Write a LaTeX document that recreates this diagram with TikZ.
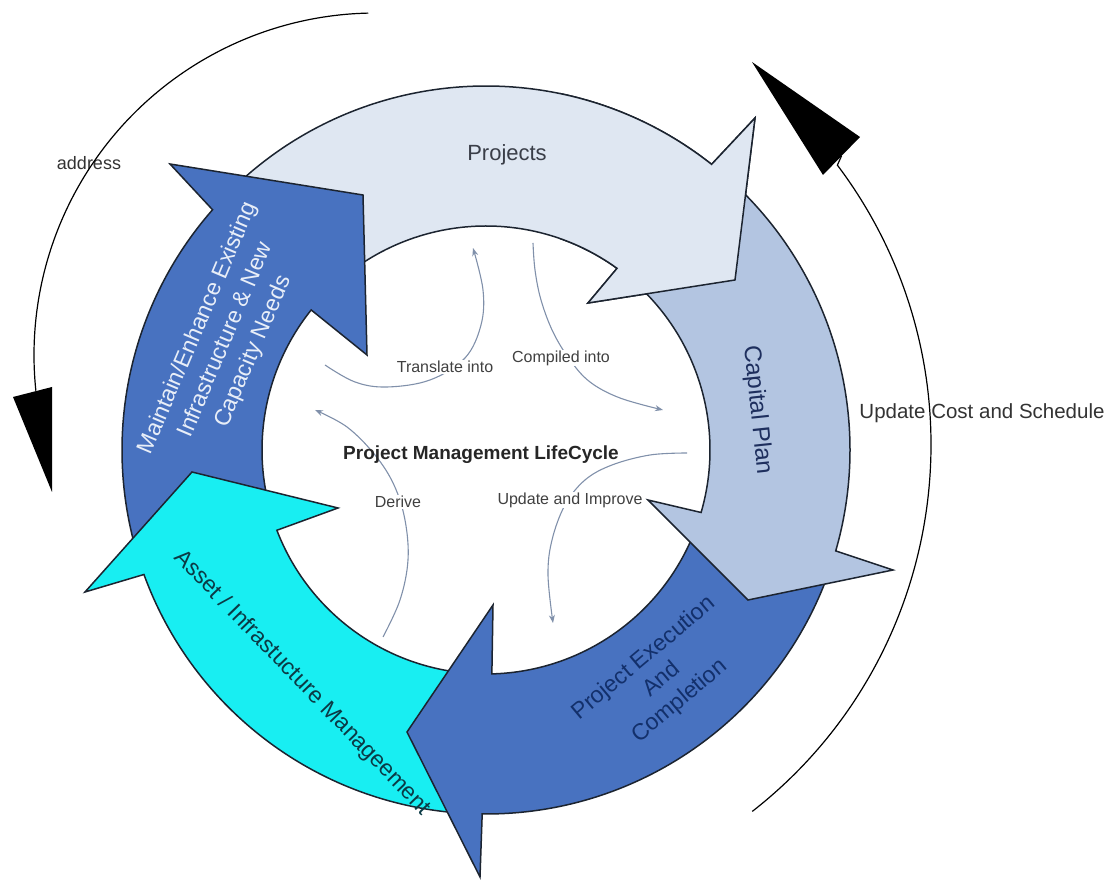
\documentclass[tikz,border=0pt]{standalone}
\usepackage{fontspec}
\setmainfont{Liberation Sans}
\usetikzlibrary{calc,arrows.meta}
\definecolor{projfill}{HTML}{DFE7F2}
\definecolor{capfill}{HTML}{B3C5E1}
\definecolor{darkblue}{HTML}{4872C0}
\definecolor{cyanfill}{HTML}{18EEF2}
\definecolor{ringline}{HTML}{1C2430}
\definecolor{connline}{HTML}{8090AA}
\definecolor{projtext}{HTML}{3A3E48}
\definecolor{captext}{HTML}{1E2F5E}
\definecolor{exectext}{HTML}{13306B}
\definecolor{assettext}{HTML}{0B3A45}
\definecolor{maintext}{HTML}{E8EEF8}
\begin{document}
\begin{tikzpicture}[x=1pt,y=1pt,
  ringarrow/.style={draw=ringline, line width=1.5pt, line join=miter},
  conn/.style={draw=connline, line width=1.1pt, -{Stealth[length=8pt,width=6pt]}},
  lab/.style={font=\fontsize{16}{19}\selectfont, text=black!75, fill=white, inner sep=1pt},
  ringlab/.style={font=\fontsize{23}{28}\selectfont, align=center, inner sep=0pt},
  bigarc/.style={draw=black, line width=1.2pt},
  sidelab/.style={text=black!80, inner sep=0pt}
]
\useasboundingbox (0,0) rectangle (1114,880);
\coordinate (O) at (486,430);

% Projects (light)
\path[ringarrow, fill=projfill] ($(O)+(136:364)$) arc[start angle=136, end angle=51.7, radius=364]
  -- (755,762) -- (735,600) -- (588,577) -- ($(O)+(54.2:224)$)
  arc[start angle=54.2, end angle=136, radius=224] -- cycle;
% Maintain (dark blue)
\path[ringarrow, fill=darkblue] ($(O)+(197:364)$) arc[start angle=197, end angle=138.7, radius=364]
  -- (170,716) -- (363,685) -- (367,525) -- ($(O)+(141.3:224)$)
  arc[start angle=141.3, end angle=197, radius=224] -- cycle;
% Asset (cyan)
\path[ringarrow, fill=cyanfill] ($(O)+(-93:364)$) arc[start angle=-93, end angle=-160, radius=364]
  -- (85,288) -- (192,408) -- (338,372) -- ($(O)+(-159:224)$)
  arc[start angle=-159, end angle=-93, radius=224] -- cycle;
% Execution (dark blue)
\path[ringarrow, fill=darkblue] ($(O)+(-19.5:364)$) arc[start angle=-19.5, end angle=-90.6, radius=364]
  -- (480,3) -- (407,148) -- (493,275) -- ($(O)+(-88.5:224)$)
  arc[start angle=-88.5, end angle=-19.5, radius=224] -- cycle;
% Capital Plan
\path[ringarrow, fill=capfill] ($(O)+(50:364)$) arc[start angle=50, end angle=-16.1, radius=364]
  -- (893,310) -- (748,280) -- (648,380) -- ($(O)+(-16.2:224)$)
  arc[start angle=-16.2, end angle=50, radius=224] -- cycle;
% Projects head again, over Capital Plan
\begin{scope}
\clip (560,0) rectangle (1114,880);
\path[ringarrow, fill=projfill] ($(O)+(136:364)$) arc[start angle=136, end angle=51.7, radius=364]
  -- (755,762) -- (735,600) -- (588,577) -- ($(O)+(54.2:224)$)
  arc[start angle=54.2, end angle=136, radius=224] -- cycle;
\end{scope}

% ring labels
\node[ringlab, text=projtext, font=\fontsize{22}{26}\selectfont] (projects) at (507,725) {Projects};
\node[ringlab, text=captext, rotate=-84, font=\fontsize{24}{28}\selectfont] (capital) at (757,470) {Capital Plan};
\node[ringlab, text=exectext, rotate=40] (execution) at (662,200) {Project Execution\\And\\Completion};
\node[ringlab, text=assettext, rotate=-46] (asset) at (302,197) {Asset / Infrastucture Manageement};
\node[ringlab, text=maintext, rotate=67, font=\fontsize{23}{30}\selectfont] (maintain) at (226,540) {Maintain/Enhance Existing\\Infrastructure \& New\\Capacity Needs};

% inner connectors
\coordinate (tr0) at (325,515); \coordinate (tr1) at (473,632);
\coordinate (co0) at (533,637); \coordinate (co1) at (663,470);
\coordinate (de0) at (383,243); \coordinate (de1) at (315,470);
\coordinate (up0) at (687,427); \coordinate (up1) at (553,257);
\draw[conn] plot[smooth, tension=0.6] coordinates {(tr0) (355,498) (387,493) (430,500) (465,522) (481,555) (483,590) (tr1)};
\draw[conn] plot[smooth, tension=0.6] coordinates {(co0) (535,610) (541,580) (553,548) (570,520) (590,498) (620,482) (co1)};
\draw[conn] plot[smooth, tension=0.6] coordinates {(de0) (400,280) (408,320) (405,360) (394,395) (375,425) (347,453) (de1)};
\draw[conn] plot[smooth, tension=0.6] coordinates {(up0) (650,425) (612,415) (585,400) (565,375) (552,340) (548,305) (up1)};

\node[lab] (ltrans) at (445,513) {Translate into};
\node[lab] (lcomp) at (561,522) {Compiled into};
\node[lab] (lderive) at (398,378) {Derive};
\node[lab] (lupdate) at (570,380) {Update and Improve};
\node[font=\bfseries\fontsize{19}{22}\selectfont, text=black!85, inner sep=0pt] (title) at (481,425) {Project Management LifeCycle};

% outer arcs
\coordinate (CL) at (376,525);
\coordinate (CR) at (466,435);
\node[sidelab, font=\fontsize{18}{21}\selectfont] (address) at (89,717) {address};
\node[sidelab, font=\fontsize{20.5}{24}\selectfont] (update) at (982,467) {Update Cost and Schedule};
\draw[bigarc] ($(CL)+(91.3:342)$) arc[start angle=91.3, end angle=186, radius=342];
\fill[black] (13,483) -- (52,493) -- (52,388) -- cycle;
\coordinate (rtip) at (841.5,724);
\draw[bigarc] ($(CR)+(-52:465)$) arc[start angle=-52, end angle=37, radius=465] -- (rtip);
\fill[black] (752,818) -- (860,743) -- (823,705) -- cycle;
\end{tikzpicture}
\end{document}
